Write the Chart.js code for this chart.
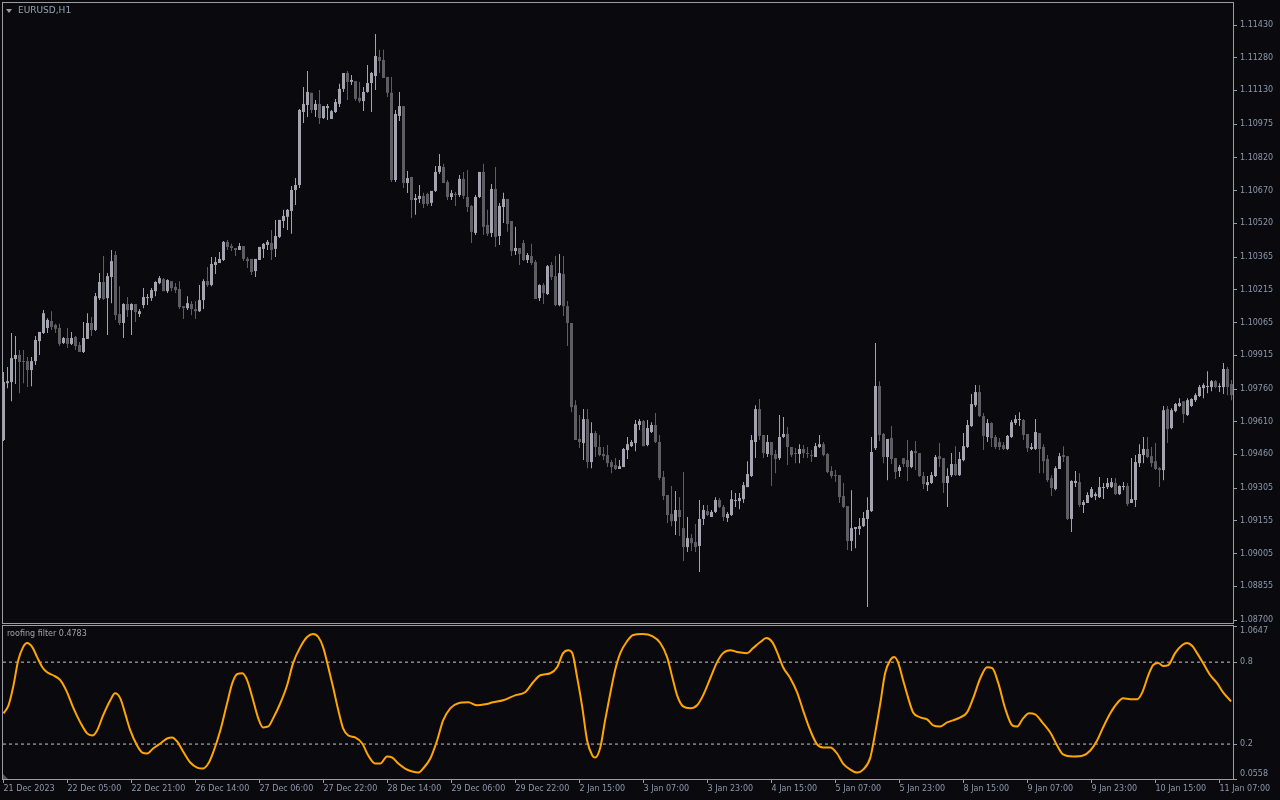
<!DOCTYPE html>
<html>
<head>
<meta charset="utf-8">
<title>EURUSD,H1</title>
<script src="https://cdn.jsdelivr.net/npm/chart.js@4.4.1/dist/chart.umd.min.js"></script>
<style>
  html, body { margin: 0; padding: 0; background: #0a0a0e; }
  #wrap { position: relative; width: 1280px; height: 800px; overflow: hidden; font-family: 'DejaVu Sans', sans-serif; }
  #price { position: absolute; left: 0; top: 0; }
  #osc { position: absolute; left: 0; top: 625px; }
  .lbl { position: absolute; white-space: nowrap; line-height: 1; }
  #symbol { left: 18px; top: 6px; font-size: 9px; color: #98a2b4; }
  #symArrow { position: absolute; left: 6px; top: 9px; width: 0; height: 0;
    border-left: 3px solid transparent; border-right: 3px solid transparent; border-top: 4px solid #9c9ca4; }
  #indName { left: 7px; top: 630px; font-size: 8px; color: #a2a2aa; }
  #corner { position: absolute; left: 3px; top: 774px; width: 0; height: 0;
    border-bottom: 5px solid #55555c; border-right: 5px solid transparent; }
</style>
</head>
<body>
<div id="wrap">
  <canvas id="price" width="1280" height="625"></canvas>
  <canvas id="osc" width="1280" height="175"></canvas>
  <div id="symArrow"></div>
  <div class="lbl" id="symbol">EURUSD,H1</div>
  <div class="lbl" id="indName">roofing filter 0.4783</div>
  <div id="corner"></div>
</div>
<script>
// x axis labels, one every 16 bars
const times = ['21 Dec 2023', '22 Dec 05:00', '22 Dec 21:00', '26 Dec 14:00', '27 Dec 06:00',
  '27 Dec 22:00', '28 Dec 14:00', '29 Dec 06:00', '29 Dec 22:00', '2 Jan 15:00', '3 Jan 07:00',
  '3 Jan 23:00', '4 Jan 15:00', '5 Jan 07:00', '5 Jan 23:00', '8 Jan 15:00', '9 Jan 07:00',
  '9 Jan 23:00', '10 Jan 15:00', '11 Jan 07:00'];

// H1 candles
const open = [1.09526,1.09787,1.09792,1.09898,1.09916,1.09888,1.09888,1.09847,1.09888,1.09980,
1.10017,1.10040,1.10072,1.10054,1.10040,1.09971,1.09994,1.09967,1.09999,1.09962,
1.09930,1.09990,1.10063,1.10031,1.10177,1.10251,1.10177,1.10274,1.10375,1.10104,
1.10063,1.10150,1.10122,1.10150,1.10104,1.10145,1.10177,1.10177,1.10209,1.10246,
1.10264,1.10209,1.10255,1.10228,1.10219,1.10140,1.10131,1.10150,1.10127,1.10117,
1.10168,1.10255,1.10237,1.10329,1.10338,1.10352,1.10435,1.10416,1.10407,1.10398,
1.10416,1.10357,1.10357,1.10301,1.10352,1.10403,1.10421,1.10430,1.10403,1.10458,
1.10531,1.10550,1.10577,1.10673,1.10696,1.11031,1.11063,1.11119,1.11040,1.11068,
1.11003,1.11049,1.10999,1.11031,1.11068,1.11137,1.11210,1.11169,1.11173,1.11096,
1.11081,1.11123,1.11164,1.11196,1.11283,1.11270,1.11192,1.11119,1.10719,1.11013,
1.11058,1.10705,1.10733,1.10627,1.10632,1.10646,1.10655,1.10614,1.10669,1.10756,
1.10779,1.10710,1.10641,1.10655,1.10650,1.10724,1.10641,1.10600,1.10476,1.10641,
1.10756,1.10513,1.10476,1.10678,1.10462,1.10595,1.10632,1.10531,1.10393,1.10407,
1.10430,1.10352,1.10370,1.10343,1.10177,1.10237,1.10196,1.10329,1.10278,1.10145,
1.10288,1.10140,1.10063,1.09686,1.09531,1.09512,1.09622,1.09425,1.09558,1.09494,
1.09462,1.09457,1.09425,1.09411,1.09393,1.09402,1.09480,1.09498,1.09512,1.09595,
1.09613,1.09503,1.09563,1.09595,1.09517,1.09356,1.09274,1.09187,1.09154,1.09205,
1.09122,1.09035,1.09076,1.09058,1.09040,1.09164,1.09200,1.09173,1.09196,1.09251,
1.09219,1.09168,1.09182,1.09246,1.09246,1.09255,1.09310,1.09361,1.09517,1.09668,
1.09549,1.09462,1.09517,1.09462,1.09443,1.09540,1.09554,1.09494,1.09466,1.09462,
1.09485,1.09466,1.09457,1.09448,1.09494,1.09507,1.09462,1.09384,1.09365,1.09365,
1.09269,1.09223,1.09063,1.09118,1.09118,1.09131,1.09164,1.09200,1.09489,1.09774,
1.09554,1.09448,1.09535,1.09443,1.09384,1.09443,1.09434,1.09402,1.09475,1.09466,
1.09361,1.09319,1.09329,1.09361,1.09452,1.09443,1.09329,1.09365,1.09416,1.09365,
1.09434,1.09494,1.09590,1.09686,1.09746,1.09636,1.09540,1.09604,1.09540,1.09517,
1.09503,1.09485,1.09540,1.09604,1.09618,1.09618,1.09554,1.09485,1.09485,1.09558,
1.09494,1.09439,1.09351,1.09301,1.09393,1.09457,1.09452,1.09164,1.09329,1.09333,
1.09228,1.09237,1.09264,1.09269,1.09264,1.09306,1.09310,1.09310,1.09329,1.09278,
1.09310,1.09315,1.09237,1.09251,1.09420,1.09457,1.09485,1.09452,1.09429,1.09397,
1.09388,1.09668,1.09581,1.09659,1.09682,1.09704,1.09641,1.09682,1.09709,1.09728,
1.09764,1.09769,1.09769,1.09796,1.09769,1.09769,1.09852,1.09783];

const high = [1.09838,1.09861,1.10017,1.10003,1.09939,1.09939,1.09907,1.09907,1.10003,1.10022,
1.10122,1.10085,1.10117,1.10059,1.10059,1.09999,1.10040,1.10022,1.10003,1.09976,
1.10068,1.10108,1.10090,1.10200,1.10292,1.10370,1.10292,1.10398,1.10393,1.10232,
1.10154,1.10182,1.10154,1.10150,1.10127,1.10223,1.10196,1.10223,1.10255,1.10278,
1.10269,1.10264,1.10255,1.10246,1.10255,1.10140,1.10186,1.10164,1.10164,1.10237,
1.10264,1.10320,1.10366,1.10366,1.10389,1.10439,1.10444,1.10426,1.10407,1.10430,
1.10416,1.10366,1.10357,1.10357,1.10412,1.10430,1.10444,1.10490,1.10536,1.10536,
1.10582,1.10586,1.10691,1.10728,1.11045,1.11146,1.11219,1.11119,1.11086,1.11132,
1.11058,1.11068,1.11040,1.11091,1.11160,1.11210,1.11219,1.11201,1.11173,1.11169,
1.11146,1.11247,1.11215,1.11389,1.11316,1.11316,1.11192,1.11192,1.11040,1.11123,
1.11058,1.10760,1.10733,1.10655,1.10696,1.10660,1.10660,1.10669,1.10783,1.10838,
1.10793,1.10719,1.10673,1.10664,1.10742,1.10756,1.10765,1.10604,1.10650,1.10756,
1.10793,1.10582,1.10701,1.10779,1.10614,1.10660,1.10632,1.10531,1.10504,1.10407,
1.10444,1.10384,1.10426,1.10352,1.10241,1.10246,1.10329,1.10343,1.10370,1.10380,
1.10370,1.10164,1.10063,1.09709,1.09641,1.09668,1.09668,1.09608,1.09567,1.09549,
1.09494,1.09503,1.09434,1.09443,1.09434,1.09489,1.09540,1.09526,1.09618,1.09622,
1.09618,1.09618,1.09608,1.09650,1.09549,1.09384,1.09274,1.09315,1.09292,1.09264,
1.09379,1.09173,1.09095,1.09141,1.09251,1.09228,1.09228,1.09205,1.09264,1.09260,
1.09228,1.09196,1.09296,1.09283,1.09283,1.09333,1.09429,1.09549,1.09686,1.09714,
1.09549,1.09549,1.09517,1.09480,1.09641,1.09632,1.09586,1.09494,1.09489,1.09507,
1.09503,1.09494,1.09480,1.09512,1.09549,1.09517,1.09466,1.09406,1.09388,1.09365,
1.09329,1.09223,1.09296,1.09127,1.09168,1.09196,1.09264,1.09540,1.09971,1.09796,
1.09558,1.09531,1.09590,1.09443,1.09411,1.09443,1.09526,1.09480,1.09521,1.09466,
1.09379,1.09361,1.09379,1.09457,1.09512,1.09443,1.09397,1.09466,1.09498,1.09471,
1.09558,1.09618,1.09737,1.09778,1.09778,1.09650,1.09622,1.09608,1.09549,1.09535,
1.09517,1.09549,1.09618,1.09641,1.09654,1.09622,1.09554,1.09512,1.09622,1.09558,
1.09507,1.09457,1.09365,1.09406,1.09466,1.09498,1.09452,1.09342,1.09384,1.09374,
1.09251,1.09287,1.09310,1.09287,1.09356,1.09329,1.09352,1.09352,1.09352,1.09319,
1.09333,1.09329,1.09443,1.09457,1.09507,1.09540,1.09540,1.09494,1.09512,1.09402,
1.09682,1.09682,1.09672,1.09696,1.09718,1.09704,1.09718,1.09718,1.09741,1.09778,
1.09787,1.09842,1.09801,1.09801,1.09787,1.09879,1.09861,1.09801];

const low = [1.09521,1.09764,1.09704,1.09783,1.09741,1.09787,1.09769,1.09773,1.09870,1.09916,
1.10013,1.10017,1.10031,1.10017,1.09957,1.09967,1.09948,1.09962,1.09939,1.09930,
1.09925,1.09990,1.10003,1.10026,1.10168,1.10168,1.10008,1.10154,1.10077,1.10054,
1.09994,1.10090,1.10008,1.10068,1.10090,1.10131,1.10145,1.10164,1.10186,1.10241,
1.10209,1.10200,1.10209,1.10200,1.10127,1.10081,1.10122,1.10099,1.10081,1.10113,
1.10127,1.10228,1.10232,1.10288,1.10338,1.10347,1.10398,1.10393,1.10370,1.10398,
1.10347,1.10315,1.10283,1.10274,1.10352,1.10361,1.10398,1.10352,1.10366,1.10453,
1.10499,1.10490,1.10472,1.10604,1.10682,1.10981,1.11008,1.11026,1.11008,1.10976,
1.10999,1.10994,1.10999,1.11026,1.11054,1.11123,1.11086,1.11155,1.11081,1.11072,
1.11035,1.11119,1.11031,1.11132,1.11210,1.11187,1.11100,1.10710,1.10710,1.10990,
1.10682,1.10659,1.10545,1.10559,1.10614,1.10591,1.10600,1.10600,1.10664,1.10747,
1.10705,1.10627,1.10627,1.10600,1.10641,1.10632,1.10572,1.10430,1.10467,1.10636,
1.10467,1.10462,1.10458,1.10412,1.10421,1.10522,1.10481,1.10370,1.10375,1.10329,
1.10347,1.10338,1.10329,1.10173,1.10164,1.10150,1.10191,1.10260,1.10140,1.10140,
1.10095,1.09957,1.09654,1.09526,1.09489,1.09434,1.09397,1.09397,1.09448,1.09452,
1.09434,1.09402,1.09374,1.09388,1.09393,1.09402,1.09439,1.09494,1.09475,1.09572,
1.09498,1.09498,1.09558,1.09512,1.09342,1.09251,1.09145,1.09131,1.09090,1.09086,
1.08971,1.09012,1.09017,1.09012,1.08920,1.09136,1.09177,1.09173,1.09191,1.09214,
1.09154,1.09150,1.09177,1.09219,1.09209,1.09237,1.09310,1.09356,1.09443,1.09526,
1.09443,1.09448,1.09315,1.09374,1.09434,1.09535,1.09411,1.09448,1.09420,1.09420,
1.09443,1.09443,1.09425,1.09448,1.09489,1.09452,1.09374,1.09351,1.09333,1.09237,
1.09214,1.09021,1.09017,1.09030,1.09090,1.09127,1.08760,1.09196,1.09480,1.09521,
1.09420,1.09342,1.09416,1.09347,1.09356,1.09402,1.09338,1.09397,1.09388,1.09356,
1.09301,1.09292,1.09324,1.09356,1.09402,1.09283,1.09219,1.09356,1.09361,1.09361,
1.09429,1.09489,1.09586,1.09677,1.09632,1.09480,1.09517,1.09494,1.09485,1.09480,
1.09480,1.09480,1.09535,1.09595,1.09590,1.09526,1.09471,1.09480,1.09480,1.09374,
1.09374,1.09333,1.09269,1.09296,1.09393,1.09425,1.09159,1.09104,1.09310,1.09219,
1.09191,1.09237,1.09260,1.09251,1.09260,1.09255,1.09301,1.09306,1.09274,1.09274,
1.09296,1.09223,1.09237,1.09219,1.09402,1.09420,1.09443,1.09402,1.09388,1.09310,
1.09342,1.09512,1.09576,1.09654,1.09677,1.09604,1.09636,1.09677,1.09700,1.09723,
1.09718,1.09741,1.09750,1.09764,1.09746,1.09737,1.09732,1.09709];

const close = [1.09792,1.09796,1.09902,1.09916,1.09884,1.09884,1.09847,1.09888,1.09985,1.10022,
1.10108,1.10077,1.10045,1.10036,1.09967,1.09994,1.09967,1.09994,1.09957,1.09930,
1.09994,1.10063,1.10031,1.10186,1.10251,1.10173,1.10278,1.10347,1.10099,1.10063,
1.10150,1.10122,1.10150,1.10113,1.10117,1.10182,1.10182,1.10214,1.10251,1.10269,
1.10209,1.10260,1.10223,1.10214,1.10136,1.10131,1.10154,1.10127,1.10117,1.10168,
1.10255,1.10237,1.10334,1.10343,1.10357,1.10435,1.10412,1.10407,1.10398,1.10416,
1.10357,1.10347,1.10297,1.10357,1.10412,1.10426,1.10435,1.10398,1.10462,1.10536,
1.10554,1.10582,1.10673,1.10696,1.11040,1.11068,1.11123,1.11040,1.11068,1.11003,
1.11058,1.11058,1.11035,1.11077,1.11137,1.11210,1.11169,1.11178,1.11091,1.11081,
1.11123,1.11164,1.11210,1.11288,1.11265,1.11187,1.11119,1.10719,1.11022,1.11058,
1.10705,1.10728,1.10627,1.10636,1.10646,1.10609,1.10609,1.10669,1.10756,1.10783,
1.10705,1.10641,1.10659,1.10650,1.10724,1.10646,1.10595,1.10481,1.10641,1.10756,
1.10504,1.10472,1.10678,1.10458,1.10600,1.10632,1.10517,1.10393,1.10407,1.10380,
1.10352,1.10375,1.10338,1.10173,1.10237,1.10200,1.10324,1.10274,1.10145,1.10292,
1.10140,1.10063,1.09677,1.09526,1.09517,1.09622,1.09425,1.09558,1.09494,1.09457,
1.09452,1.09420,1.09402,1.09393,1.09406,1.09485,1.09507,1.09517,1.09600,1.09613,
1.09498,1.09581,1.09595,1.09517,1.09352,1.09269,1.09182,1.09154,1.09205,1.09173,
1.09035,1.09076,1.09053,1.09035,1.09164,1.09205,1.09182,1.09196,1.09251,1.09219,
1.09173,1.09187,1.09255,1.09251,1.09260,1.09319,1.09370,1.09526,1.09668,1.09545,
1.09466,1.09517,1.09457,1.09439,1.09540,1.09554,1.09494,1.09457,1.09462,1.09485,
1.09466,1.09462,1.09452,1.09498,1.09507,1.09457,1.09379,1.09361,1.09361,1.09264,
1.09219,1.09063,1.09122,1.09127,1.09131,1.09168,1.09205,1.09471,1.09774,1.09549,
1.09448,1.09531,1.09439,1.09379,1.09402,1.09416,1.09402,1.09475,1.09466,1.09361,
1.09324,1.09333,1.09365,1.09448,1.09439,1.09329,1.09361,1.09416,1.09365,1.09439,
1.09498,1.09595,1.09691,1.09746,1.09636,1.09545,1.09604,1.09535,1.09494,1.09494,
1.09485,1.09545,1.09608,1.09622,1.09622,1.09549,1.09489,1.09494,1.09563,1.09485,
1.09429,1.09342,1.09306,1.09397,1.09452,1.09448,1.09164,1.09338,1.09338,1.09228,
1.09241,1.09274,1.09301,1.09278,1.09310,1.09310,1.09329,1.09333,1.09278,1.09315,
1.09315,1.09232,1.09255,1.09425,1.09462,1.09485,1.09448,1.09420,1.09393,1.09388,
1.09663,1.09576,1.09663,1.09691,1.09696,1.09645,1.09709,1.09714,1.09732,1.09769,
1.09778,1.09774,1.09796,1.09769,1.09774,1.09852,1.09769,1.09732];

// price scale labels (as MT4 shows them)
const priceTicks = [1.11430, 1.11280, 1.11130, 1.10975, 1.10820, 1.10670, 1.10520, 1.10365, 1.10215,
  1.10065, 1.09915, 1.09760, 1.09610, 1.09460, 1.09305, 1.09155, 1.09005, 1.08855, 1.08700];

// roofing filter (bar position, value)
const oscBar = [0,1.25,2.4,3.7,4.9,5.9,7.2,8.4,9.7,10.9,12.4,14.2,15.9,17.4,19.2,20.9,22.2,23.4,24.9,26.7,
27.9,29.2,30.4,31.7,33.4,34.7,35.9,37.4,39.2,40.9,42.2,43.4,44.9,46.7,48.4,49.9,51.2,52.4,54.2,55.9,
57.2,58.4,59.7,60.9,62.2,63.7,64.9,66.2,67.4,69.2,70.9,72.4,74.2,75.9,77.4,78.7,79.9,81.2,82.4,83.7,
84.9,86.2,87.9,89.7,91.2,92.9,94.2,95.9,97.2,98.7,100.4,102.2,103.7,104.9,106.7,108.4,109.9,111.7,113.7,116.2,
118.4,120.4,122.4,124.9,127.9,130.4,132.4,134.2,136.7,138.4,139.9,141.2,142.2,143.4,144.7,145.9,147.2,147.9,149.2,150.4,
151.7,152.9,154.2,155.9,157.4,159.7,162.2,164.2,165.9,167.2,168.4,169.9,171.7,173.4,174.9,176.7,178.4,179.9,181.7,183.4,
185.9,187.4,189.2,190.7,192.2,193.4,194.9,196.7,198.4,199.9,201.7,203.4,204.9,206.7,208.4,209.9,211.7,213.4,214.9,216.7,
217.9,219.2,220.4,221.7,222.7,223.7,224.9,226.2,227.4,229.2,230.9,232.4,234.2,235.9,237.4,239.2,240.9,242.4,244.2,245.9,
247.2,248.7,250.4,252.2,253.4,254.9,256.4,257.9,259.7,261.7,263.4,264.9,267.4,269.9,271.7,273.4,274.9,276.7,278.4,279.9,
281.7,283.4,284.7,286.2,287.4,288.7,289.9,291.2,292.9,294.7,295.9,297.2,298.4,299.9,301.7,303.4,304.9,306.9];
const oscVal = [0.425,0.484,0.616,0.815,0.910,0.940,0.910,0.837,0.763,0.726,0.704,0.668,0.579,0.469,0.359,0.278,0.263,0.300,0.410,0.521,
0.572,0.535,0.425,0.300,0.190,0.138,0.131,0.168,0.204,0.241,0.249,0.219,0.146,0.065,0.028,0.021,0.057,0.138,0.300,0.499,
0.646,0.712,0.719,0.668,0.543,0.388,0.322,0.329,0.388,0.499,0.631,0.793,0.910,0.984,1.006,0.984,0.910,0.763,0.616,0.447,
0.315,0.263,0.249,0.204,0.116,0.057,0.057,0.109,0.101,0.057,0.021,-0.001,-0.009,0.021,0.094,0.226,0.374,0.462,0.499,0.506,
0.484,0.491,0.506,0.521,0.557,0.579,0.653,0.704,0.719,0.763,0.866,0.888,0.866,0.690,0.469,0.226,0.116,0.101,0.175,0.374,
0.572,0.741,0.866,0.954,0.999,1.006,0.991,0.940,0.837,0.690,0.557,0.476,0.462,0.484,0.557,0.682,0.800,0.866,0.888,0.874,
0.866,0.903,0.947,0.976,0.947,0.874,0.763,0.682,0.579,0.447,0.300,0.197,0.175,0.175,0.131,0.057,0.013,-0.009,0.013,0.101,
0.278,0.499,0.719,0.815,0.837,0.793,0.668,0.535,0.432,0.396,0.381,0.337,0.329,0.359,0.374,0.396,0.432,0.535,0.682,0.763,
0.756,0.646,0.462,0.337,0.329,0.388,0.425,0.418,0.359,0.285,0.190,0.124,0.109,0.116,0.153,0.226,0.322,0.425,0.499,0.535,
0.528,0.528,0.579,0.704,0.778,0.793,0.771,0.778,0.866,0.925,0.940,0.918,0.866,0.793,0.704,0.646,0.579,0.513];

const oscTicks = [1.0647, 0.8, 0.2, -0.0558];
const oscTickText = ['1.0647', '0.8', '0.2', '0.0558'];
const levels = [0.8, 0.2];

const bullColor = '#a4a4b0';
const bearColor = '#5d5d63';
const textColor = '#8d98ac';
const frameColor = '#9c9ca4';

Chart.defaults.font.family = "'DejaVu Sans', sans-serif";
Chart.defaults.font.size = 8;
Chart.defaults.color = textColor;

const xMin = -0.125, xMax = 307.375;
const bars = close.map((c, i) => i);
const candleColor = bars.map(i => close[i] >= open[i] ? bullColor : bearColor);

// box around the plot area, like the terminal window frame
const framePlugin = {
  id: 'frame',
  afterDraw(chart, args, opts) {
    const a = chart.chartArea;
    const ctx = chart.ctx;
    ctx.save();
    ctx.strokeStyle = frameColor;
    ctx.lineWidth = 1;
    ctx.strokeRect(a.left - 0.5, a.top - 0.5, a.right - a.left + 1, a.bottom - a.top + opts.dh);
    ctx.restore();
  }
};

new Chart(document.getElementById('price'), {
  type: 'bar',
  data: {
    datasets: [
      {
        label: 'wick',
        data: bars.map(i => ({ x: i, y: [low[i], high[i]] })),
        backgroundColor: candleColor,
        barThickness: 1,
        grouped: false,
        inflateAmount: 0,
        minBarLength: 1
      },
      {
        label: 'body',
        data: bars.map(i => ({ x: i, y: [open[i], close[i]] })),
        backgroundColor: candleColor,
        barThickness: 3,
        grouped: false,
        inflateAmount: 0,
        minBarLength: 1
      }
    ]
  },
  options: {
    responsive: false,
    animation: false,
    devicePixelRatio: 1,
    layout: { padding: { left: 3, top: 3, right: 0, bottom: 1 } },
    plugins: { legend: { display: false }, tooltip: { enabled: false }, frame: { dh: 0 } },
    scales: {
      x: { type: 'linear', display: false, min: xMin, max: xMax, offset: false },
      y: {
        position: 'right',
        min: 1.08682,
        max: 1.11531,
        afterBuildTicks: s => { s.ticks = priceTicks.map(v => ({ value: v })); },
        afterFit: s => { s.width = 47; s.paddingTop = 0; s.paddingBottom = 0; },
        ticks: { padding: 3, autoSkip: false, callback: v => v.toFixed(5) },
        grid: { drawOnChartArea: false, drawTicks: true, tickLength: 4, color: frameColor },
        border: { display: false }
      }
    }
  },
  plugins: [framePlugin]
});

new Chart(document.getElementById('osc'), {
  type: 'line',
  data: {
    datasets: [
      {
        label: 'roofing filter',
        data: oscBar.map((b, i) => ({ x: b, y: oscVal[i] })),
        borderColor: '#ffa500',
        borderWidth: 2,
        pointRadius: 0,
        cubicInterpolationMode: 'monotone'
      },
      ...levels.map(v => ({
        label: 'level ' + v,
        data: [{ x: xMin, y: v }, { x: xMax, y: v }],
        borderColor: '#c8c8c8',
        borderWidth: 1,
        borderDash: [3, 3],
        pointRadius: 0
      }))
    ]
  },
  options: {
    responsive: false,
    animation: false,
    devicePixelRatio: 1,
    layout: { padding: { left: 3, top: 1, right: 0, bottom: 0 } },
    plugins: { legend: { display: false }, tooltip: { enabled: false }, frame: { dh: 1 } },
    scales: {
      x: {
        type: 'linear',
        min: xMin,
        max: xMax,
        afterBuildTicks: s => { s.ticks = times.map((t, k) => ({ value: k * 16 })); },
        afterFit: s => { s.height = 21; s.paddingLeft = 0; s.paddingRight = 0; },
        ticks: { align: 'start', autoSkip: false, maxRotation: 0, padding: 1, callback: (v, k) => times[k] },
        grid: { drawOnChartArea: false, drawTicks: true, tickLength: 4, color: frameColor },
        border: { display: false }
      },
      y: {
        position: 'right',
        min: -0.0558,
        max: 1.0647,
        afterBuildTicks: s => { s.ticks = oscTicks.map(v => ({ value: v })); },
        afterFit: s => { s.width = 47; s.paddingTop = 0; s.paddingBottom = 0; },
        ticks: {
          padding: 3,
          autoSkip: false,
          callback: (v, k) => {
            if (k === 0) return ['', oscTickText[k]];
            if (k === oscTickText.length - 1) return [oscTickText[k], ''];
            return oscTickText[k];
          }
        },
        grid: { drawOnChartArea: false, drawTicks: true, tickLength: 4, color: frameColor },
        border: { display: false }
      }
    }
  },
  plugins: [framePlugin]
});
</script>
</body>
</html>
